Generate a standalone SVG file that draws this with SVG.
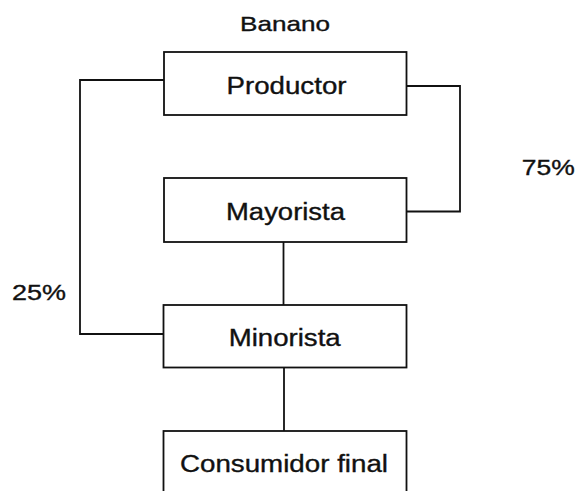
<svg xmlns="http://www.w3.org/2000/svg" width="583" height="491" viewBox="0 0 583 491">
<style>
.box{fill:#fff;stroke:#111;stroke-width:1.8}
.ln{fill:none;stroke:#111;stroke-width:1.8}
text{font-family:"Liberation Sans",Arial,sans-serif;font-size:23px;fill:#111;stroke:#111;stroke-width:0.35;text-anchor:middle}
</style>
<rect width="583" height="491" fill="#fff"/>
<text x="285" y="30.5" style="font-size:21px" textLength="90" lengthAdjust="spacingAndGlyphs">Banano</text>
<g id="connectors">
<polyline class="ln" points="164,80 80,80 80,334 164,334"/>
<polyline class="ln" points="406,86 460,86 460,211.5 406,211.5"/>
<line class="ln" x1="283.5" y1="242" x2="283.5" y2="305"/>
<line class="ln" x1="284" y1="367" x2="284" y2="431"/>
</g>
<g id="productor">
<rect class="box" x="164" y="52" width="242.5" height="63"/>
<text x="286.5" y="93.5" textLength="120" lengthAdjust="spacingAndGlyphs">Productor</text>
</g>
<g id="mayorista">
<rect class="box" x="164" y="178" width="242.5" height="64"/>
<text x="285.5" y="219.5" textLength="119" lengthAdjust="spacingAndGlyphs">Mayorista</text>
</g>
<g id="minorista">
<rect class="box" x="163.5" y="305" width="243" height="62.5"/>
<text x="284.7" y="345.5" textLength="112" lengthAdjust="spacingAndGlyphs">Minorista</text>
</g>
<g id="consumidor">
<rect class="box" x="163.5" y="431" width="243" height="70"/>
<text x="284" y="471.5" textLength="208" lengthAdjust="spacingAndGlyphs">Consumidor final</text>
</g>
<text x="548.3" y="174.5" style="font-size:22px" textLength="53" lengthAdjust="spacingAndGlyphs">75%</text>
<text x="39" y="299.5" style="font-size:22px" textLength="54" lengthAdjust="spacingAndGlyphs">25%</text>
</svg>
